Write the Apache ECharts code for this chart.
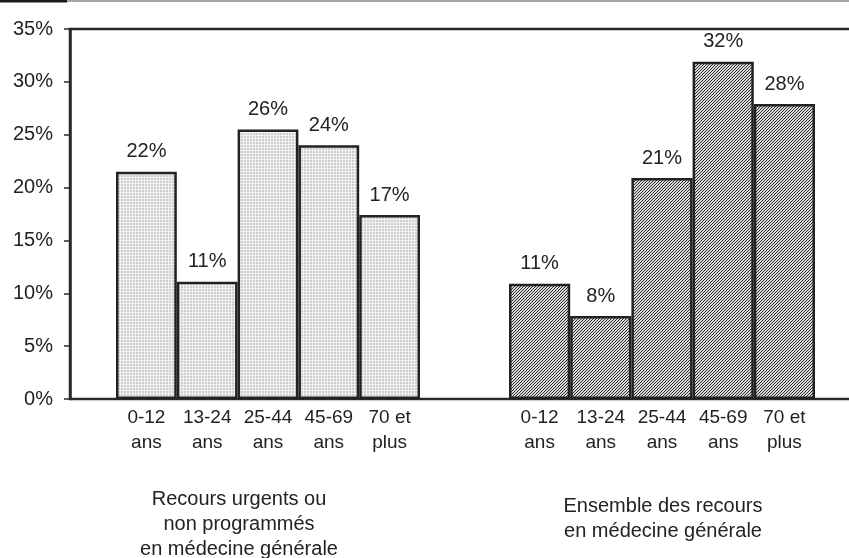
<!DOCTYPE html>
<html>
<head>
<meta charset="utf-8">
<script src="https://cdn.jsdelivr.net/npm/echarts@6/dist/echarts.min.js"></script>
<style>
  html, body { margin: 0; padding: 0; background: #fff; }
  #chart { width: 849px; height: 558px; }
</style>
</head>
<body>
<div id="chart"></div>
<script>
// tranches d'âge
var ageLabels = ['0-12\nans', '13-24\nans', '25-44\nans', '45-69\nans', '70 et\nplus'];
// recours urgents ou non programmés (%)
var urgentValues = [21.5, 11.1, 25.5, 24.0, 17.4];
// ensemble des recours en médecine générale (%)
var allValues = [10.9, 7.85, 20.9, 31.9, 27.9];
var yTicks = [0, 5, 10, 15, 20, 25, 30, 35];
var captionUrgent = 'Recours urgents ou\nnon programmés\nen médecine générale';
var captionAll = 'Ensemble des recours\nen médecine générale';

var font = 'Liberation Sans, Arial, sans-serif';
var ink = '#222';

// trame pointillée claire
function dotPattern() {
  var c = document.createElement('canvas');
  c.width = 3; c.height = 3;
  var ctx = c.getContext('2d');
  ctx.fillStyle = '#cdcdcd';
  ctx.fillRect(0, 0, 3, 3);
  ctx.fillStyle = '#f2f2f2';
  ctx.fillRect(0, 0, 3, 1);
  ctx.fillRect(0, 0, 1, 3);
  return c;
}
// hachures obliques
function hatchPattern() {
  var c = document.createElement('canvas');
  c.width = 3; c.height = 3;
  var ctx = c.getContext('2d');
  ctx.fillStyle = '#d8d8d8';
  ctx.fillRect(0, 0, 3, 3);
  ctx.fillStyle = '#2e2e2e';
  ctx.fillRect(2, 0, 1, 1);
  ctx.fillRect(1, 1, 1, 1);
  ctx.fillRect(0, 2, 1, 1);
  return c;
}

function barSeries(idx, values, pattern) {
  return {
    type: 'bar',
    xAxisIndex: idx,
    yAxisIndex: idx,
    data: values,
    barWidth: '100%',
    itemStyle: {
      color: { image: pattern, repeat: 'repeat' },
      borderColor: ink,
      borderWidth: 2.5
    },
    label: {
      show: true,
      position: 'top',
      distance: 10,
      fontFamily: font,
      fontSize: 20,
      color: ink,
      formatter: function (p) { return Math.round(p.value) + '%'; }
    },
    silent: true
  };
}

function groupAxis(idx) {
  return {
    type: 'category',
    gridIndex: idx,
    data: ageLabels,
    axisLine: { show: false },
    axisTick: { show: false },
    axisLabel: {
      interval: 0,
      margin: 6,
      fontFamily: font,
      fontSize: 19,
      lineHeight: 25,
      color: ink
    }
  };
}

function hiddenY(idx) {
  return { type: 'value', gridIndex: idx, min: 0, max: 35, show: false };
}

var chart = echarts.init(document.getElementById('chart'));
chart.setOption({
  animation: false,
  backgroundColor: '#fff',
  grid: [
    { left: 70, width: 800, top: 29, bottom: 159, outerBoundsMode: 'none', show: true, borderColor: '#2a2a2a', borderWidth: 2.5 },
    { left: 116, width: 304, top: 29, bottom: 159, outerBoundsMode: 'none' },
    { left: 509, width: 306, top: 29, bottom: 159, outerBoundsMode: 'none' }
  ],
  xAxis: [
    { type: 'value', gridIndex: 0, show: false },
    groupAxis(1),
    groupAxis(2)
  ],
  yAxis: [
    {
      type: 'value',
      gridIndex: 0,
      min: yTicks[0],
      max: yTicks[yTicks.length - 1],
      interval: 5,
      axisLine: { show: true, lineStyle: { color: '#2a2a2a', width: 2.5 } },
      axisTick: { show: true, length: 6, lineStyle: { color: '#2a2a2a', width: 1.5 } },
      splitLine: { show: false },
      axisLabel: {
        margin: 17,
        fontFamily: font,
        fontSize: 20,
        color: ink,
        formatter: '{value}%'
      }
    },
    hiddenY(1),
    hiddenY(2)
  ],
  series: [
    barSeries(1, urgentValues, dotPattern()),
    barSeries(2, allValues, hatchPattern())
  ],
  graphic: [
    { type: 'line', shape: { x1: 0, y1: 1, x2: 67, y2: 1 }, style: { stroke: '#1a1a1a', lineWidth: 3 } },
    { type: 'line', shape: { x1: 67, y1: 1, x2: 849, y2: 1 }, style: { stroke: '#888', lineWidth: 1.5 } },
    {
      type: 'text', x: 239, y: 487,
      style: { text: captionUrgent, font: '20px ' + font, fill: ink, textAlign: 'center', textVerticalAlign: 'top', lineHeight: 25 }
    },
    {
      type: 'text', x: 663, y: 494,
      style: { text: captionAll, font: '20px ' + font, fill: ink, textAlign: 'center', textVerticalAlign: 'top', lineHeight: 25 }
    }
  ]
});
</script>
</body>
</html>
